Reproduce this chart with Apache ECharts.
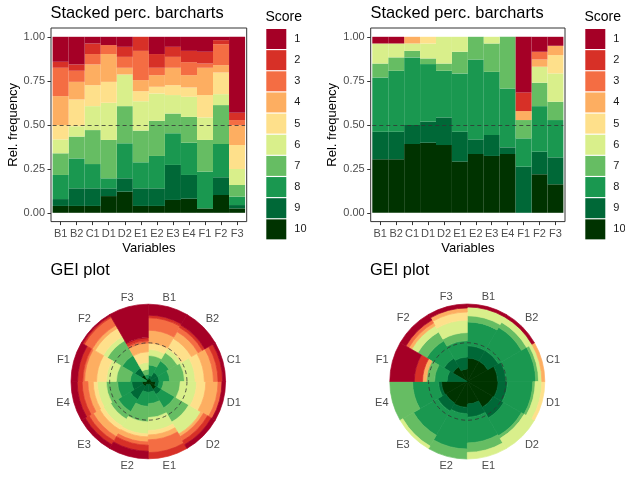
<!DOCTYPE html>
<html><head><meta charset="utf-8">
<script src="https://cdn.jsdelivr.net/npm/echarts@6/dist/echarts.min.js"></script>
<style>html,body{margin:0;padding:0;background:#fff}#c{width:625px;height:478px}</style>
</head><body><div id="c"></div>
<script>
// ---------- data ----------
const variables = ['B1','B2','C1','D1','D2','E1','E2','E3','E4','F1','F2','F3'];
const scores = ['1','2','3','4','5','6','7','8','9','10'];
const yTicks = [0, 0.25, 0.5, 0.75, 1];
const refLine = 0.5;

// left panel: relative frequency of each score per variable
const left1  = [0.142,0.157,0.038,0.047,0.057,0.000,0.098,0.057,0.080,0.085,0.019,0.432];
const left2  = [0.034,0.036,0.060,0.000,0.057,0.080,0.078,0.057,0.064,0.067,0.023,0.041];
const left3  = [0.161,0.063,0.059,0.051,0.062,0.166,0.042,0.062,0.074,0.024,0.119,0.029];
const left4  = [0.164,0.100,0.118,0.158,0.038,0.063,0.066,0.099,0.070,0.155,0.042,0.113];
const left5  = [0.082,0.152,0.119,0.119,0.000,0.057,0.038,0.056,0.053,0.127,0.123,0.136];
const left6  = [0.079,0.059,0.136,0.211,0.180,0.167,0.155,0.105,0.114,0.128,0.062,0.091];
const left7  = [0.123,0.124,0.193,0.218,0.211,0.180,0.200,0.112,0.147,0.180,0.221,0.066];
const left8  = [0.137,0.170,0.138,0.057,0.199,0.148,0.184,0.180,0.183,0.209,0.189,0.048];
const left9  = [0.039,0.100,0.100,0.044,0.076,0.100,0.100,0.199,0.135,0.000,0.101,0.019];
const left10 = [0.039,0.039,0.039,0.095,0.120,0.039,0.039,0.073,0.080,0.025,0.101,0.025];

// right panel
const right1  = [0.038,0.038,0,0,0,0,0,0,0,0.316,0.085,0.051];
const right2  = [0,0,0,0,0,0,0,0,0,0.106,0,0];
const right3  = [0,0,0,0,0,0,0,0,0,0,0.044,0];
const right4  = [0,0,0.038,0,0,0,0,0,0,0.051,0.041,0.053];
const right5  = [0,0,0,0.038,0,0,0,0,0,0,0,0.104];
const right6  = [0.114,0.079,0.042,0.085,0.152,0.085,0,0.038,0,0,0.091,0.161];
const right7  = [0.079,0.076,0.037,0.032,0.041,0.123,0.129,0.161,0.294,0.104,0.133,0.104];
const right8  = [0.308,0.346,0.384,0.327,0.265,0.331,0.454,0.359,0.334,0.161,0.259,0.212];
const right9  = [0.157,0.157,0.108,0.120,0.157,0.170,0.083,0.119,0.038,0.262,0.128,0.153];
const right10 = [0.304,0.304,0.391,0.398,0.385,0.291,0.334,0.323,0.334,0,0.219,0.162];

const leftData = [left1,left2,left3,left4,left5,left6,left7,left8,left9,left10];
const rightData = [right1,right2,right3,right4,right5,right6,right7,right8,right9,right10];

// ---------- styles ----------
const palette = ['#A50026','#D73027','#F46D43','#FDAE61','#FEE08B','#D9EF8B','#66BD63','#1A9850','#006837','#003300'];
const font = 'Liberation Sans, Arial, Helvetica, sans-serif';
const tickCol = '#333333', labCol = '#4D4D4D';

const chart = echarts.init(document.getElementById('c'));

const dataGrids = [
  {left: 52.6, top: 36.8, width: 192.5, height: 176},
  {left: 372.3, top: 36.8, width: 191.1, height: 176}
];
const borderGrids = [
  {left: 51, top: 28, width: 195.7, height: 193.6},
  {left: 370.7, top: 28, width: 194.3, height: 193.6}
];
const polars = [
  {center: [148.3, 381.5], radius: 77.3},
  {center: [467.3, 381.5], radius: 77.5}
];

const grid = [], xAxis = [], yAxis = [], series = [];
dataGrids.forEach((g) => grid.push(Object.assign({show: false, outerBoundsMode: 'none', containLabel: false}, g)));
borderGrids.forEach((g) => grid.push(Object.assign({show: true, borderColor: '#333333', borderWidth: 1, backgroundColor: 'rgba(0,0,0,0)', outerBoundsMode: 'none', containLabel: false}, g)));

for (let i = 0; i < 2; i++) {
  xAxis.push({
    type: 'category', gridIndex: i, data: variables, boundaryGap: true, offset: 8.8,
    axisLine: {show: false, onZero: false},
    axisTick: {show: true, alignWithLabel: true, length: 3.5, lineStyle: {color: tickCol, width: 1}},
    axisLabel: {interval: 0, color: labCol, fontSize: 11, margin: 6.5, fontFamily: font},
    splitLine: {show: false},
    name: 'Variables', nameLocation: 'middle', nameGap: 20.5,
    nameTextStyle: {color: '#000', fontSize: 13, fontFamily: font}
  });
  yAxis.push({
    type: 'value', gridIndex: i, min: 0, max: 1, interval: 0.25, offset: 1.6,
    axisLine: {show: false, onZero: false},
    axisTick: {show: true, length: 3.5, lineStyle: {color: tickCol, width: 1}},
    axisLabel: {color: labCol, fontSize: 11, margin: 6, fontFamily: font, formatter: (v) => v.toFixed(2)},
    splitLine: {show: false},
    name: 'Rel. frequency', nameLocation: 'middle', nameGap: 29.5, nameRotate: 90,
    nameTextStyle: {color: '#000', fontSize: 13, fontFamily: font}
  });
}
for (let i = 2; i < 4; i++) {
  xAxis.push({type: 'value', gridIndex: i, show: false, min: 0, max: 1});
  yAxis.push({type: 'value', gridIndex: i, show: false, min: 0, max: 1});
}

const angleAxis = [], radiusAxis = [];
for (let i = 0; i < 2; i++) {
  angleAxis.push({
    type: 'category', polarIndex: i, data: variables, startAngle: 90, clockwise: true, boundaryGap: true,
    axisLine: {show: false}, axisTick: {show: false}, splitLine: {show: false},
    axisLabel: {color: labCol, fontSize: 11, margin: 4, fontFamily: font, interval: 0}
  });
  radiusAxis.push({
    type: 'value', polarIndex: i, min: 0, max: 1, interval: refLine, z: 10,
    axisLine: {show: false}, axisTick: {show: false}, axisLabel: {show: false},
    splitArea: {show: false},
    splitLine: {show: true, lineStyle: {color: ['rgba(0,0,0,0)', '#333333', 'rgba(0,0,0,0)'], type: [4, 3], width: 0.8}}
  });
}

function addStack(data, kind, idx, stackName) {
  for (let k = 9; k >= 0; k--) {
    const isPolar = kind === 'polar';
    const s = {
      name: scores[k], type: 'bar', stack: stackName,
      // zero-frequency cells are left empty so no sliver is drawn
      data: data[k].map((v) => (v > 0 ? v : null)),
      itemStyle: isPolar
        ? {color: palette[k], borderColor: palette[k], borderWidth: 0.7}
        : {color: palette[k], borderWidth: 0},
      barCategoryGap: '0%', barGap: '0%',
      emphasis: {disabled: true}, silent: true
    };
    if (!isPolar) { s.xAxisIndex = idx; s.yAxisIndex = idx; }
    else { s.coordinateSystem = 'polar'; s.polarIndex = idx; }
    if (!isPolar && k === 0) {
      s.markLine = {
        silent: true, symbol: 'none', label: {show: false},
        lineStyle: {color: '#333333', type: [4, 3], width: 0.8},
        data: [{yAxis: refLine}]
      };
    }
    series.push(s);
  }
}
addStack(leftData, 'grid', 0, 'barL');
addStack(rightData, 'grid', 1, 'barR');
addStack(leftData, 'polar', 0, 'polL');
addStack(rightData, 'polar', 1, 'polR');

const titleStyle = {fontSize: 16.4, fontWeight: 'normal', color: '#000', fontFamily: font};
const legendTitleStyle = {fontSize: 14, fontWeight: 'normal', color: '#000', fontFamily: font};
const legendBase = {
  data: scores, orient: 'vertical', top: 29, itemWidth: 20, itemHeight: 20, itemGap: 1.15,
  icon: 'rect', selectedMode: false, padding: 0,
  itemStyle: {borderWidth: 0},
  textStyle: {fontSize: 11, color: '#1A1A1A', fontFamily: font, padding: [0, 0, 0, 3]}
};

chart.setOption({
  animation: false,
  backgroundColor: '#ffffff',
  textStyle: {fontFamily: font},
  title: [
    {text: 'Stacked perc. barcharts', left: 50.5, top: 5, padding: 0, textStyle: titleStyle},
    {text: 'Stacked perc. barcharts', left: 370.5, top: 5, padding: 0, textStyle: titleStyle},
    {text: 'GEI plot', left: 50.5, top: 262, padding: 0, textStyle: titleStyle},
    {text: 'GEI plot', left: 370, top: 262, padding: 0, textStyle: titleStyle},
    {text: 'Score', left: 265.5, top: 10, padding: 0, textStyle: legendTitleStyle},
    {text: 'Score', left: 584.5, top: 10, padding: 0, textStyle: legendTitleStyle}
  ],
  legend: [
    Object.assign({left: 266.3}, legendBase),
    Object.assign({left: 585.3}, legendBase)
  ],
  grid, xAxis, yAxis,
  polar: polars,
  angleAxis, radiusAxis,
  tooltip: {show: false},
  series
});
</script>
</body></html>
